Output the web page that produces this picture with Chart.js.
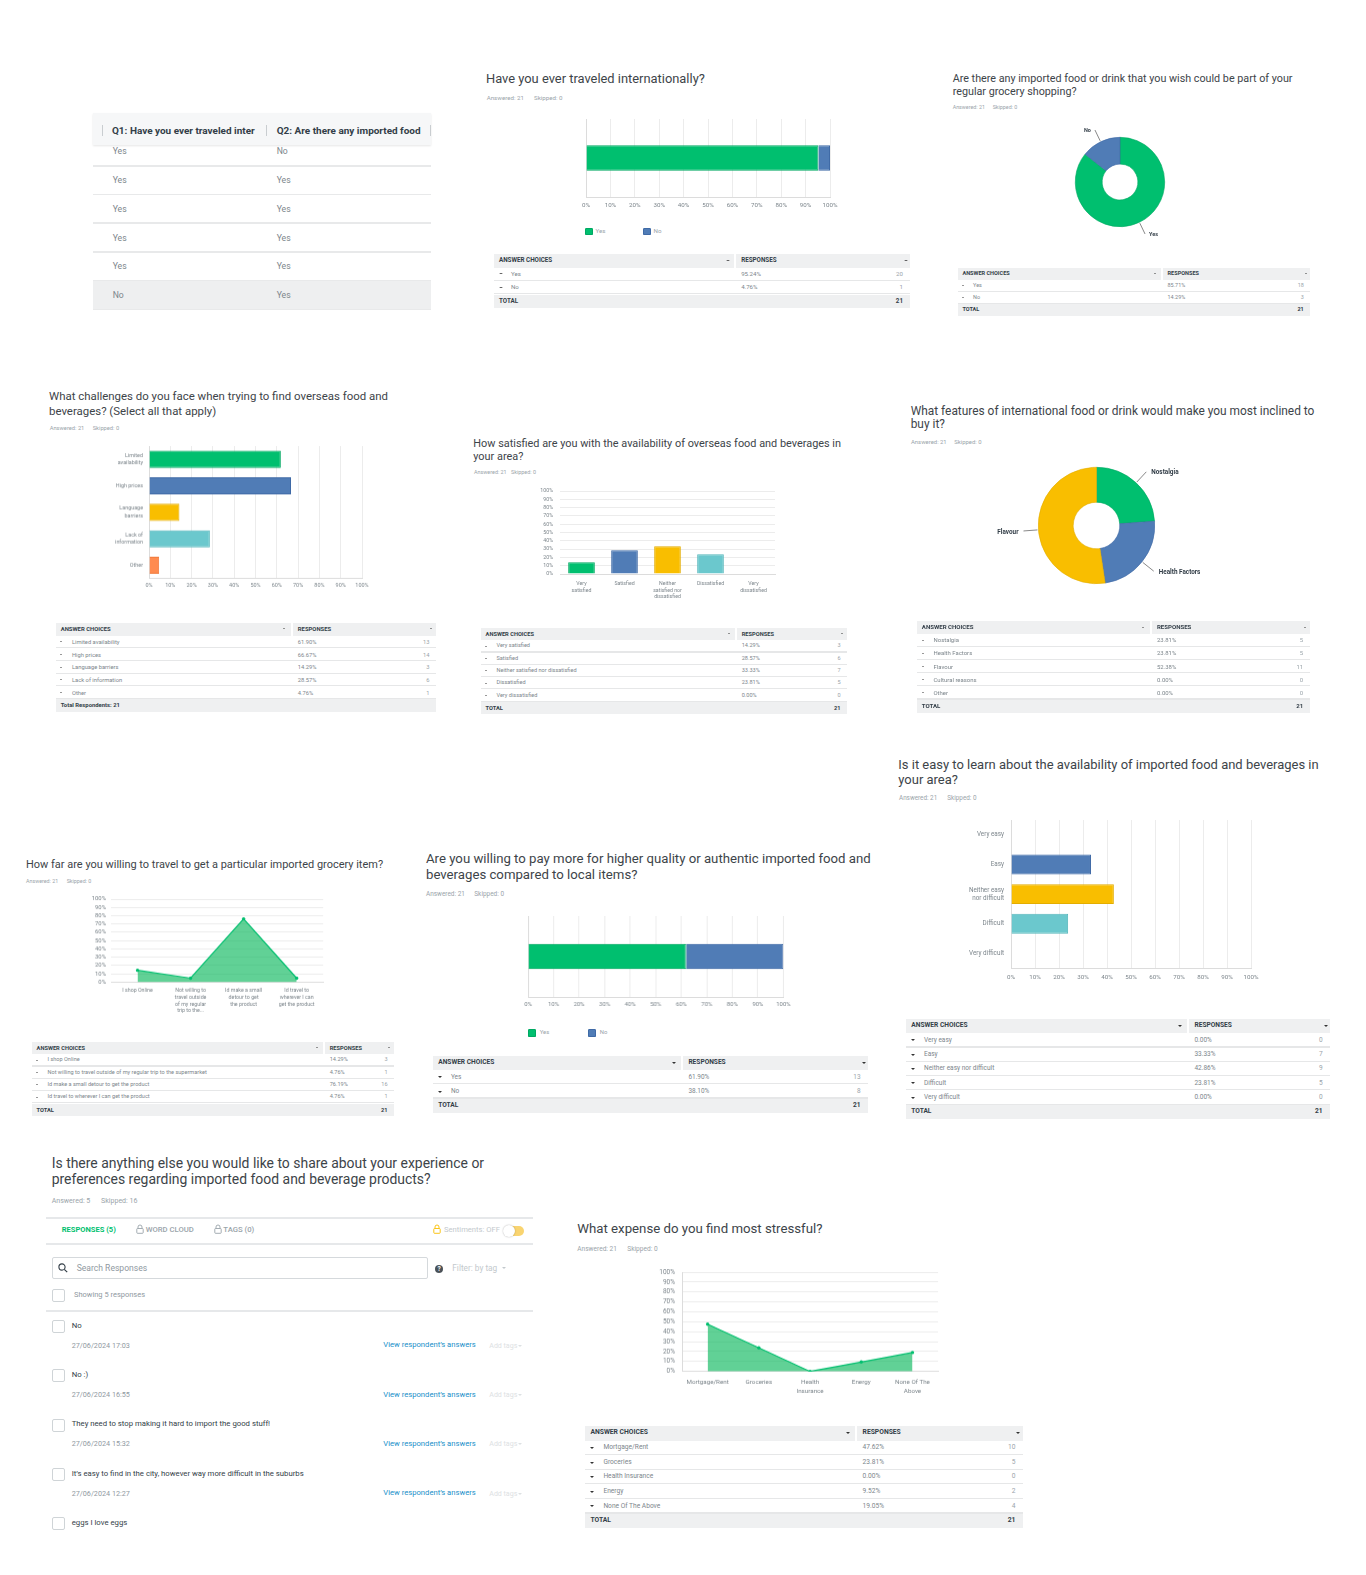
<!DOCTYPE html>
<html>
<head>
<meta charset="utf-8">
<title>Survey results</title>
<script src="https://cdn.jsdelivr.net/npm/chart.js@4.4.1/dist/chart.umd.min.js"></script>
<style>
  html, body { margin: 0; padding: 0; background: #fff; }
  #page { position: relative; width: 1366px; height: 1575px; overflow: hidden; font-family: Roboto, "Open Sans", sans-serif; }
  .t { position: absolute; white-space: nowrap; }
  .r { position: absolute; }
  .cbox { position: absolute; }
  .cbox canvas { display: block; }
</style>
</head>
<body>
<div id="page"></div>
<script>
// ---- survey data ----
const tableQ1 = ["Yes", "Yes", "Yes", "Yes", "Yes", "No"];
const tableQ2 = ["No", "Yes", "Yes", "Yes", "Yes", "Yes"];

const travelChoices = ["Yes", "No"];
const travelPct = [95.24, 4.76];
const travelCount = [20, 1];

const wishChoices = ["Yes", "No"];
const wishPct = [85.71, 14.29];
const wishCount = [18, 3];

const challengeChoices = ["Limited availability", "High prices", "Language barriers", "Lack of information", "Other"];
const challengeTicks = [["Limited", "availability"], "High prices", ["Language", "barriers"], ["Lack of", "information"], "Other"];
const challengePct = [61.90, 66.67, 14.29, 28.57, 4.76];
const challengeCount = [13, 14, 3, 6, 1];

const satisfactionChoices = ["Very satisfied", "Satisfied", "Neither satisfied nor dissatisfied", "Dissatisfied", "Very dissatisfied"];
const satisfactionTicks = [["Very", "satisfied"], "Satisfied", ["Neither", "satisfied nor", "dissatisfied"], "Dissatisfied", ["Very", "dissatisfied"]];
const satisfactionPct = [14.29, 28.57, 33.33, 23.81, 0];
const satisfactionCount = [3, 6, 7, 5, 0];

const featureChoices = ["Nostalgia", "Health Factors", "Flavour", "Cultural reasons", "Other"];
const featurePct = [23.81, 23.81, 52.38, 0, 0];
const featureCount = [5, 5, 11, 0, 0];

const distanceChoices = ["I shop Online", "Not willing to travel outside of my regular trip to the supermarket", "Id make a small detour to get the product", "Id travel to wherever I can get the product"];
const distanceTicks = ["I shop Online", ["Not willing to", "travel outside", "of my regular", "trip to the..."], ["Id make a small", "detour to get", "the product"], ["Id travel to", "wherever I can", "get the product"]];
const distancePct = [14.29, 4.76, 76.19, 4.76];
const distanceCount = [3, 1, 16, 1];

const payChoices = ["Yes", "No"];
const payPct = [61.90, 38.10];
const payCount = [13, 8];

const easeChoices = ["Very easy", "Easy", "Neither easy nor difficult", "Difficult", "Very difficult"];
const easeTicks = ["Very easy", "Easy", ["Neither easy", "nor difficult"], "Difficult", "Very difficult"];
const easePct = [0, 33.33, 42.86, 23.81, 0];
const easeCount = [0, 7, 9, 5, 0];

const responseTexts = ["No", "No :)", "They need to stop making it hard to import the good stuff!", "It\u2019s easy to find in the city, however way more difficult in the suburbs", "eggs I love eggs"];
const responseDates = ["27/06/2024 17:03", "27/06/2024 16:55", "27/06/2024 15:32", "27/06/2024 12:27"];

const expenseChoices = ["Mortgage/Rent", "Groceries", "Health Insurance", "Energy", "None Of The Above"];
const expenseTicks = ["Mortgage/Rent", "Groceries", ["Health", "Insurance"], "Energy", ["None Of The", "Above"]];
const expensePct = [47.62, 23.81, 0, 9.52, 19.05];
const expenseCount = [10, 5, 0, 2, 4];

// SurveyMonkey-ish palette
const palette = ["#00bf6f", "#507cb6", "#f9be00", "#6bc8cd", "#ff8b4f"];
const paletteEdge = ["#00a862", "#3f6aa6", "#e3ad00", "#55b6bb", "#f07a3c"];
const GREY = "#7d868c";
const LIGHT = "#9aa4aa";
const DARK = "#333e48";

// ---- helpers ----
const page = document.getElementById("page");
const mctx = document.createElement("canvas").getContext("2d");

function sizeFor(text, w, weight) {
  mctx.font = (weight || 400) + " 100px Roboto";
  return 100 * w / mctx.measureText(text).width;
}

function put(text, x, y, size, color, weight, align) {
  const d = document.createElement("div");
  d.className = "t";
  d.textContent = text;
  d.style.fontSize = size + "px";
  d.style.lineHeight = (size * 1.4) + "px";
  d.style.top = (y - size * 0.72) + "px";
  if (align === "right") d.style.right = (1366 - x) + "px";
  else d.style.left = x + "px";
  d.style.color = color || DARK;
  if (weight) d.style.fontWeight = weight;
  page.appendChild(d);
  return d;
}

function rect(x, y, w, h, color, extra) {
  const d = document.createElement("div");
  d.className = "r";
  Object.assign(d.style, { left: x + "px", top: y + "px", width: w + "px", height: h + "px", background: color }, extra || {});
  page.appendChild(d);
  return d;
}

function tri(x, y, s, color) {
  const d = document.createElement("div");
  d.className = "r";
  Object.assign(d.style, {
    left: (x - s) + "px", top: (y - s * 0.45) + "px", width: 0, height: 0,
    borderLeft: s + "px solid transparent", borderRight: s + "px solid transparent",
    borderTop: (s * 0.95) + "px solid " + color
  });
  page.appendChild(d);
}

function title(lines, x, y, pitch, w) {
  const size = sizeFor(lines[0], w);
  lines.forEach((ln, i) => put(ln, x, y + i * pitch, size, "#3d4449"));
}

function meta(x, y, w, dx, answered, skipped) {
  const a = "Answered: " + answered;
  const size = sizeFor(a, w);
  put(a, x, y, size, LIGHT);
  put("Skipped: " + skipped, x + dx, y, size, LIGHT);
}

function answerTable(x, y0, w, p, respOff, choices, pct, counts, totalLabel, total) {
  const head = sizeFor("ANSWER CHOICES", 3.95 * p, 700);
  const body = p * 0.455;
  rect(x, y0, respOff - 2, p, "#eff0f1");
  rect(x + respOff, y0, w - respOff, p, "#eff0f1");
  put("ANSWER CHOICES", x + p * 0.37, y0 + p / 2, head, DARK, 700);
  tri(x + respOff - p * 0.6, y0 + p / 2, p * 0.15, "#333");
  put("RESPONSES", x + respOff + p * 0.38, y0 + p / 2, head, DARK, 700);
  tri(x + w - p * 0.3, y0 + p / 2, p * 0.15, "#333");
  choices.forEach((c, i) => {
    const yc = y0 + p * (i + 1) + p / 2;
    tri(x + p * 0.5, yc, p * 0.15, "#333");
    put(c, x + p * 1.26, yc, body, GREY);
    put(pct[i].toFixed(2) + "%", x + respOff + p * 0.38, yc, body, GREY);
    put(String(counts[i]), x + w - p * 0.52, yc, body, LIGHT, null, "right");
    rect(x, y0 + p * (i + 2) - 1.2, w, 1.2, "#e6e7e8");
  });
  const yt = y0 + p * (choices.length + 1);
  rect(x, yt, w, p, "#eff0f1");
  put(totalLabel, x + p * 0.37, yt + p / 2, head, DARK, 700);
  if (total != null) put(String(total), x + w - p * 0.52, yt + p / 2, head, DARK, 700, "right");
}

function box(x, y, w, h) {
  const d = document.createElement("div");
  d.className = "cbox";
  Object.assign(d.style, { left: x + "px", top: y + "px", width: w + "px", height: h + "px" });
  const cv = document.createElement("canvas");
  d.appendChild(cv);
  page.appendChild(d);
  return cv;
}

// Puts the plot area exactly on (px, py, pw, ph): left axis is L wide, bottom axis B high.
function place(px, py, pw, ph, L, B, cfg) {
  const PL = 12, T = 10, R = 18;
  const cv = box(px - L - PL, py - T, pw + L + PL + R, ph + T + B);
  const zero = (s) => { s.paddingLeft = s.paddingRight = s.paddingTop = s.paddingBottom = 0; };
  cfg.options.layout = { padding: { left: PL, top: T, right: R, bottom: 0 } };
  cfg.options.scales.x.afterFit = (s) => { s.height = B; zero(s); };
  cfg.options.scales.y.afterFit = (s) => { s.width = L; zero(s); };
  return new Chart(cv, cfg);
}

function pctScale(font, pad, border) {
  return {
    min: 0, max: 100,
    ticks: { stepSize: 10, callback: (v) => v + "%", font: { size: font }, padding: pad, autoSkip: false, maxRotation: 0, color: GREY },
    grid: { color: "#ececec", drawTicks: false },
    border: { display: border, color: "#dcdcdc" }
  };
}

function catScale(font, pad, lh, show) {
  return {
    ticks: { display: show, font: { size: font, lineHeight: lh }, padding: pad, autoSkip: false, maxRotation: 0, color: GREY },
    grid: { display: false, drawTicks: false },
    border: { color: "#dcdcdc" }
  };
}

function stackedBar(px, py, pw, ph, choices, values, font, pad, cat) {
  const x = pctScale(font, pad, true); x.stacked = true;
  const y = catScale(5, 0, 1.2, false); y.stacked = true;
  return place(px, py, pw, ph, 0, 30, {
    type: "bar",
    data: {
      labels: [""],
      datasets: choices.map((c, i) => ({
        label: c, data: [values[i]], backgroundColor: palette[i], borderColor: paletteEdge[i],
        borderWidth: 1, barPercentage: 1, categoryPercentage: cat
      }))
    },
    options: { indexAxis: "y", scales: { x, y } }
  });
}

function legend(items, y, xs, sq, dx, font) {
  items.forEach((t, i) => {
    rect(xs[i], y - sq / 2, sq, sq, palette[i], { borderRadius: "1.5px", boxShadow: "inset 0 0 0 1px " + paletteEdge[i] });
    put(t, xs[i] + dx, y, font, LIGHT);
  });
}

const sliceLabels = {
  id: "sliceLabels",
  afterDatasetsDraw(chart, args, opts) {
    const ctx = chart.ctx;
    const meta = chart.getDatasetMeta(0);
    const vals = chart.data.datasets[0].data;
    ctx.save();
    ctx.font = "700 " + opts.size + "px Roboto, sans-serif";
    ctx.fillStyle = DARK;
    ctx.strokeStyle = "#555";
    ctx.lineWidth = 0.7;
    ctx.textBaseline = "middle";
    meta.data.forEach((arc, i) => {
      if (!vals[i]) return;
      const a = (arc.startAngle + arc.endAngle) / 2;
      const r = arc.outerRadius;
      const x1 = arc.x + Math.cos(a) * (r + 1), y1 = arc.y + Math.sin(a) * (r + 1);
      const x2 = arc.x + Math.cos(a) * (r + opts.len), y2 = arc.y + Math.sin(a) * (r + opts.len);
      ctx.beginPath(); ctx.moveTo(x1, y1); ctx.lineTo(x2, y2); ctx.stroke();
      const right = Math.cos(a) >= 0;
      ctx.textAlign = right ? "left" : "right";
      ctx.fillText(chart.data.labels[i], x2 + (right ? opts.gap : -opts.gap), y2 + 1);
    });
    ctx.restore();
  }
};

function donut(cx, cy, r, pad, labels, values, font, len, gap) {
  const cv = box(cx - r - pad, cy - r - pad, 2 * (r + pad), 2 * (r + pad));
  return new Chart(cv, {
    type: "doughnut",
    data: { labels, datasets: [{ data: values, backgroundColor: palette, borderColor: paletteEdge, borderWidth: 0.6 }] },
    options: { cutout: "40%", layout: { padding: pad }, plugins: { sliceLabels: { size: font, len, gap } } },
    plugins: [sliceLabels]
  });
}

function area(px, py, pw, ph, L, ticks, values, xFont, xLh, xPad, yFont, yPad, yBorder) {
  const x = catScale(xFont, xPad, xLh, true); x.offset = true;
  return place(px, py, pw, ph, L, 40, {
    type: "line",
    data: {
      labels: ticks,
      datasets: [{
        data: values, borderColor: "#00bf6f", backgroundColor: "rgba(0,180,85,0.62)", fill: "origin",
        borderWidth: 1.2, pointRadius: 1.7, pointBackgroundColor: "#00bf6f", pointBorderWidth: 0, tension: 0
      }]
    },
    options: { scales: { x, y: pctScale(yFont, yPad, yBorder) } }
  });
}

Chart.defaults.font.family = 'Roboto, "Open Sans", sans-serif';
Chart.defaults.color = GREY;
Chart.defaults.animation = false;
Chart.defaults.maintainAspectRatio = false;
Chart.defaults.plugins.legend.display = false;
Chart.defaults.plugins.tooltip.enabled = false;

// ---- A: respondent table (column headers are truncated in the export) ----
const aHead = sizeFor("Q1: Have you ever traveled inter", 143, 700);
const aRow = sizeFor("Yes", 14);
tableQ1.forEach((v, i) => {
  const yc = 151.7 + i * 28.7;
  if (i === tableQ1.length - 1) rect(93, yc - 14.5, 338, 28.6, "#eeeff0");
  put(v, 112.7, yc, aRow, GREY);
  put(tableQ2[i], 276.7, yc, aRow, GREY);
  rect(93, yc + 13.3, 338, 1.5, "#e8e9ea");
});
rect(93, 113, 338, 32, "#f6f7f8", { boxShadow: "0 1px 2px rgba(0,0,0,0.10)" });
[101.7, 265.7, 429.5].forEach((x) => rect(x, 125, 1, 11, "#c9cdd0"));
put("Q1: Have you ever traveled inter", 112, 130.7, aHead, DARK, 700);
put("Q2: Are there any imported food", 276.7, 130.7, aHead, DARK, 700);

// ---- B: traveled internationally ----
title(["Have you ever traveled internationally?"], 486, 79.5, 0, 219);
meta(486.7, 98.3, 37.3, 47.3, 21, 0);
stackedBar(586, 119, 244, 78, travelChoices, travelPct, sizeFor("100%", 15), 4.5, 0.33);
legend(travelChoices, 231.7, [585, 643], 7.5, 10.5, sizeFor("100%", 15));
answerTable(494, 254, 416, 13.5, 242, travelChoices, travelPct, travelCount, "TOTAL", 21);

// ---- C: imported food wish ----
title(["Are there any imported food or drink that you wish could be part of your", "regular grocery shopping?"], 952.7, 78.3, 13.3, 340);
meta(952.7, 107.7, 32.3, 40, 21, 0);
donut(1120, 182, 45, 40, wishChoices, wishPct, sizeFor("Yes", 9, 700), 13, 4);
answerTable(958, 268, 352, 12, 205, wishChoices, wishPct, wishCount, "TOTAL", 21);

// ---- D: challenges ----
title(["What challenges do you face when trying to find overseas food and", "beverages? (Select all that apply)"], 49, 396.7, 14.3, 339.3);
meta(49.7, 427.7, 34.7, 43, 21, 0);
place(148.7, 446, 213, 131.7, 60, 30, {
  type: "bar",
  data: { labels: challengeTicks, datasets: [{ data: challengePct, backgroundColor: palette, borderColor: paletteEdge, borderWidth: 1, barPercentage: 1, categoryPercentage: 0.65 }] },
  options: { indexAxis: "y", scales: { x: pctScale(sizeFor("100%", 13.3), 4, true), y: catScale(sizeFor("High prices", 27.3), 6, 1.4, true) } }
});
answerTable(56, 623, 380, 12.7, 237, challengeChoices, challengePct, challengeCount, "Total Respondents: 21", null);

// ---- E: satisfaction ----
title(["How satisfied are you with the availability of overseas food and beverages in", "your area?"], 473.3, 444, 13.3, 368.3);
meta(474, 472.7, 32.7, 37, 21, 0);
place(560, 491, 215, 83, 30, 40, {
  type: "bar",
  data: { labels: satisfactionTicks, datasets: [{ data: satisfactionPct, backgroundColor: palette, borderColor: paletteEdge, borderWidth: 1, barPercentage: 1, categoryPercentage: 0.62 }] },
  options: { scales: { x: catScale(sizeFor("Dissatisfied", 27.3), 6, 1.3, true), y: pctScale(sizeFor("100%", 12.7), 7, false) } }
});
answerTable(481, 628, 366, 12.3, 256, satisfactionChoices, satisfactionPct, satisfactionCount, "TOTAL", 21);

// ---- F: features ----
title(["What features of international food or drink would make you most inclined to", "buy it?"], 910.7, 411.7, 13.3, 404);
meta(911, 442.7, 35.7, 43.3, 21, 0);
donut(1096.3, 525, 58.5, 75, featureChoices, featurePct, sizeFor("Health Factors", 41.7, 700), 15, 5);
answerTable(917, 621, 393, 13.1, 235, featureChoices, featurePct, featureCount, "TOTAL", 21);

// ---- G: travel distance ----
title(["How far are you willing to travel to get a particular imported grocery item?"], 26, 865, 0, 357.3);
meta(26, 881.7, 32.3, 40.7, 21, 0);
area(111, 899.3, 212.2, 82.4, 30, distanceTicks, distancePct, sizeFor("I shop Online", 30.7), 1.27, 5, sizeFor("100%", 14.3), 5, false);
answerTable(32, 1042, 362, 12.3, 293, distanceChoices, distancePct, distanceCount, "TOTAL", 21);

// ---- H: pay more ----
title(["Are you willing to pay more for higher quality or authentic imported food and", "beverages compared to local items?"], 426, 860, 15.7, 445);
meta(426, 894.3, 39, 48.3, 21, 0);
stackedBar(528.3, 915.7, 254.4, 81, payChoices, payPct, sizeFor("100%", 14.3), 4, 0.317);
legend(payChoices, 1032.7, [527.7, 587.7], 8, 12, sizeFor("100%", 14.3));
answerTable(433, 1056, 435, 14.2, 250, payChoices, payPct, payCount, "TOTAL", 21);

// ---- I: ease of learning ----
title(["Is it easy to learn about the availability of imported food and beverages in", "your area?"], 898.3, 765, 15, 421);
meta(899, 799, 38.3, 48.3, 21, 0);
place(1010.7, 820, 240, 148.3, 70, 30, {
  type: "bar",
  data: { labels: easeTicks, datasets: [{ data: easePct, backgroundColor: palette, borderColor: paletteEdge, borderWidth: 1, barPercentage: 1, categoryPercentage: 0.67 }] },
  options: { indexAxis: "y", scales: { x: pctScale(sizeFor("100%", 15), 5, true), y: catScale(sizeFor("Very difficult", 35), 7, 1.3, true) } }
});
answerTable(906, 1019, 424, 14.3, 283, easeChoices, easePct, easeCount, "TOTAL", 21);

// ---- J: open responses ----
title(["Is there anything else you would like to share about your experience or", "preferences regarding imported food and beverage products?"], 51.7, 1164, 16, 432.7);
meta(51.7, 1200.7, 38.7, 49.3, 5, 16);

function lock(x, y, color) {
  const d = document.createElement("div");
  d.className = "r";
  Object.assign(d.style, { left: x + "px", top: (y - 6.5) + "px", width: "8px", height: "10px" });
  d.innerHTML = '<svg width="8" height="10" viewBox="0 0 8 10" style="display:block"><path d="M2 4.5V3a2 2 0 0 1 4 0v1.5" fill="none" stroke="' + color +
    '" stroke-width="0.9"/><rect x="0.8" y="4.5" width="6.4" height="4.8" rx="0.7" fill="none" stroke="' + color + '" stroke-width="0.9"/></svg>';
  page.appendChild(d);
}
function checkbox(x, y) {
  rect(x, y, 13, 13, "#fff", { border: "1px solid #cfd4d7", borderRadius: "2px", boxSizing: "border-box" });
}

rect(46, 1217, 487, 2, "#e6e8ea");
put("RESPONSES (5)", 61.7, 1230.7, sizeFor("RESPONSES (5)", 54.3, 700), "#00bf6f", 700);
lock(135.7, 1230.7, LIGHT);
put("WORD CLOUD", 145.7, 1230.7, sizeFor("WORD CLOUD", 48.3, 500), LIGHT, 500);
lock(214, 1230.7, LIGHT);
put("TAGS (0)", 223.3, 1230.7, sizeFor("TAGS (0)", 31, 500), LIGHT, 500);
lock(433, 1230.7, "#f9be00");
put("Sentiments: OFF", 444, 1230.7, sizeFor("Sentiments: OFF", 56), "#c3c9cd");
rect(504, 1226, 20, 10, "#f9d470", { borderRadius: "5px" });
rect(502.5, 1224.7, 12.5, 12.5, "#fff", { borderRadius: "50%", boxShadow: "0 0 1.5px rgba(0,0,0,0.35)" });
rect(46, 1242.5, 487, 2, "#e6e8ea");

rect(51.7, 1256.7, 376.6, 22.6, "#fff", { border: "1px solid #d5d9dc", borderRadius: "2px", boxSizing: "border-box" });
const sIcon = document.createElement("div");
sIcon.className = "r";
Object.assign(sIcon.style, { left: "58px", top: "1263px", width: "10px", height: "10px" });
sIcon.innerHTML = '<svg width="10" height="10" viewBox="0 0 10 10" style="display:block"><circle cx="4" cy="4" r="3.1" fill="none" stroke="#333e48" stroke-width="1.1"/><line x1="6.3" y1="6.3" x2="9.2" y2="9.2" stroke="#333e48" stroke-width="1.2"/></svg>';
page.appendChild(sIcon);
put("Search Responses", 76.7, 1268, sizeFor("Search Responses", 70.6), "#8f999f");
rect(435, 1265, 8.4, 8.4, "#4a5258", { borderRadius: "50%" });
put("?", 437.5, 1269.2, 6.5, "#fff", 700);
put("Filter: by tag", 452.3, 1268.5, sizeFor("Filter: by tag", 45), "#c3c9cd");
tri(505, 1268, 2.6, "#c3c9cd");
checkbox(51.7, 1289);
put("Showing 5 responses", 74, 1295.5, sizeFor("Showing 5 responses", 71), "#8f999f");
rect(46, 1310, 487, 2, "#e6e8ea");

const respSize = sizeFor(responseTexts[2], 198.7);
const dateSize = sizeFor(responseDates[0], 58.3);
const linkSize = sizeFor("View respondent\u2019s answers", 92.7);
const tagSize = sizeFor("Add tags", 28);
responseTexts.forEach((t, i) => {
  const y0 = 1320 + i * 49.3;
  checkbox(51.7, y0);
  put(t, 71.7, y0 + 6.3, respSize, DARK);
  if (responseDates[i]) {
    put(responseDates[i], 71.7, y0 + 25.9, dateSize, "#8f999f");
    put("View respondent\u2019s answers", 383.3, y0 + 25.9, linkSize, "#1a8fc9");
    put("Add tags", 489.3, y0 + 25.9, tagSize, "#dde1e3");
    tri(520.5, y0 + 25.9, 2.3, "#dde1e3");
  }
});

// ---- K: stressful expense ----
title(["What expense do you find most stressful?"], 577.3, 1230, 0, 245.3);
meta(577.3, 1249.7, 39.7, 50, 21, 0);
area(681.5, 1272.3, 256.1, 98.7, 34, expenseTicks, expensePct, sizeFor("Mortgage/Rent", 42.3), 1.32, 7, sizeFor("100%", 15.7), 7, true);
answerTable(585, 1426, 438, 14.6, 272, expenseChoices, expensePct, expenseCount, "TOTAL", 21);
</script>
</body>
</html>
